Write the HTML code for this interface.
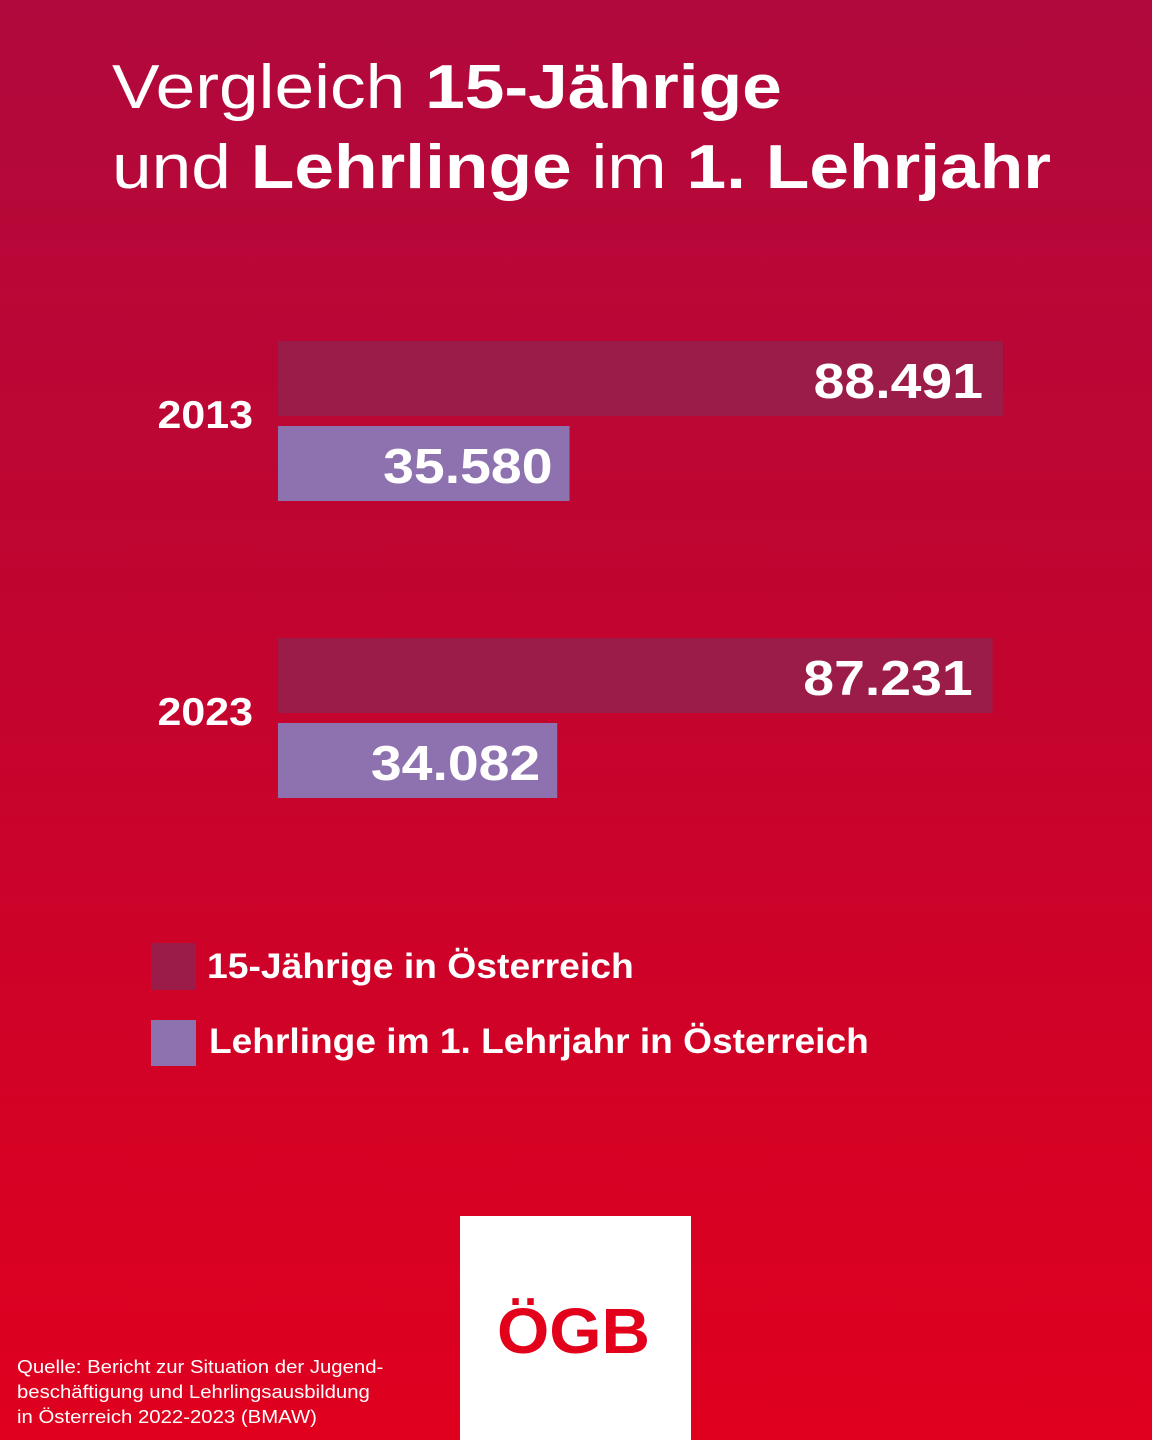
<!DOCTYPE html>
<html><head><meta charset="utf-8"><style>
body{margin:0;width:1152px;height:1440px;overflow:hidden;font-family:"Liberation Sans",sans-serif;color:#fff}
#bg{position:absolute;left:0;top:0;width:1152px;height:1440px;background:linear-gradient(180deg,#b1093d 0%,#c2042f 45%,#e0001e 100%)}
.t{position:absolute;white-space:nowrap;transform-origin:0 0}
</style></head><body>
<div id="bg"></div>
<div class="t" style="left:112px;top:48px;font-size:62px;line-height:80px;transform:scaleX(1.15)">Vergleich <b>15-Jährige</b><br>und <b>Lehrlinge</b> im <b>1. Lehrjahr</b></div>
<svg id="chart" width="1152" height="1440" style="position:absolute;left:0;top:0"></svg>
<div>
<div style="position:absolute;left:151px;top:943px;width:45px;height:47px;background:#9b1c48"></div>
<div class="t" style="left:207px;top:947px;font-size:35px;font-weight:bold;transform:scaleX(1.065)">15-Jährige in Österreich</div>
<div style="position:absolute;left:151px;top:1020px;width:45px;height:46px;background:#8e72b0"></div>
<div class="t" style="left:209px;top:1022px;font-size:35px;font-weight:bold;transform:scaleX(1.06)">Lehrlinge im 1. Lehrjahr in Österreich</div>
</div>
<div style="position:absolute;left:460px;top:1216px;width:231px;height:224px;background:#fff">
<div class="t" style="left:37px;top:78px;font-size:64px;font-weight:bold;color:#e2001a;transform:scaleX(1.05)">ÖGB</div>
</div>
<div class="t" style="left:17px;top:1355px;font-size:18px;line-height:25px;transform:scaleX(1.13)">Quelle: Bericht zur Situation der Jugend-<br>beschäftigung und Lehrlingsausbildung<br>in Österreich 2022-2023 (BMAW)</div>
<script>
const years=["2013","2023"];
const total15=[88491,87231];
const lehrlinge=[35580,34082];
const labels15=["88.491","87.231"];
const labelsL=["35.580","34.082"];
const svg=document.getElementById('chart');
const NS="http://www.w3.org/2000/svg";
const x0=278, k=725/88491;
const xs=v=>v*k;
const groupTop=i=>341+i*297;
function rect(x,y,w,h,f,name){const r=document.createElementNS(NS,'rect');r.setAttribute('x',x);r.setAttribute('y',y);r.setAttribute('width',w);r.setAttribute('height',h);r.setAttribute('fill',f);


svg.appendChild(r);}
function text(x,y,s,size,anchor,name,sx){const t=document.createElementNS(NS,'text');t.setAttribute('x',x);t.setAttribute('y',y);t.setAttribute('fill','#fff');t.setAttribute('font-size',size);t.setAttribute('font-weight','bold');t.setAttribute('font-family','Liberation Sans, sans-serif');t.setAttribute('text-anchor',anchor);t.textContent=s;


svg.appendChild(t);
const L=t.getComputedTextLength();
if(L>0){t.setAttribute('textLength',L*sx);t.setAttribute('lengthAdjust','spacingAndGlyphs');}}
years.forEach((y,i)=>{
 const top=groupTop(i);
 const w1=xs(total15[i]), w2=xs(lehrlinge[i]);
 rect(x0,top,w1,75,'#9b1c48','bar-15-jaehrige-'+y);
 rect(x0,top+85,w2,75,'#8e72b0','bar-lehrlinge-'+y);
 text(x0+w1-20,top+57,labels15[i],49,'end','value-15-jaehrige-'+y,1.13);
 text(x0+w2-17,top+142,labelsL[i],49,'end','value-lehrlinge-'+y,1.13);
 text(253,top+87,y,39,'end','year-label-'+y,1.1);
});
</script>
</body></html>
